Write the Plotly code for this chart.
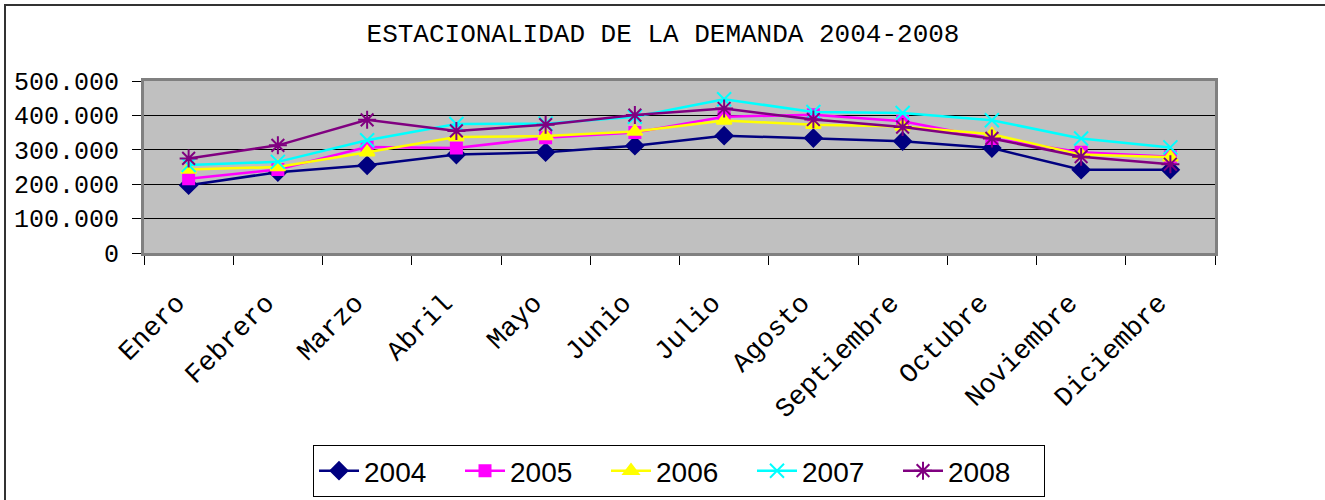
import plotly.graph_objects as go

months = ["Enero", "Febrero", "Marzo", "Abril", "Mayo", "Junio", "Julio",
          "Agosto", "Septiembre", "Octubre", "Noviembre", "Diciembre"]

y2004 = [197000, 235000, 255000, 286000, 293000, 312000, 341000, 334000, 325000, 305000, 242000, 242000]
y2005 = [216000, 243000, 308000, 305000, 335000, 350000, 396000, 402000, 383000, 333000, 293000, 280000]
y2006 = [243000, 250000, 293000, 337000, 340000, 353000, 385000, 373000, 368000, 345000, 286000, 278000]
y2007 = [256000, 265000, 328000, 375000, 376000, 396000, 447000, 410000, 407000, 386000, 333000, 307000]
y2008 = [275000, 313000, 387000, 355000, 373000, 401000, 420000, 388000, 366000, 333000, 280000, 258000]

years = ["2004", "2005", "2006", "2007", "2008"]
series = [y2004, y2005, y2006, y2007, y2008]
colors = ["#000080", "#FF00FF", "#FFFF00", "#00FFFF", "#800080"]
symbols = ["diamond", "square", "triangle-up", "x-thin-open", "asterisk-open"]
sizes = [13, 11, 13, 14, 15]

FONT = "Liberation Mono, Courier New, monospace"
LEGFONT = "Liberation Sans, Arial, sans-serif"

fig = go.Figure()
for name, vals, col, sym, sz in zip(years, series, colors, symbols, sizes):
    fig.add_trace(go.Scatter(
        x=months, y=vals, name=name, mode="lines+markers",
        line=dict(color=col, width=2.5),
        marker=dict(symbol=sym, size=sz, color=col, line=dict(color=col, width=2)),
    ))

L, R, T, B = 144, 1215, 81, 253
W, H = 1325, 500

def px(x):
    return (x - L) / (R - L)

def py(y):
    return (B - y) / (B - T)

fig.update_layout(
    width=W, height=H,
    margin=dict(l=L, r=W - R, t=T, b=H - B, autoexpand=False),
    paper_bgcolor="white",
    plot_bgcolor="#C0C0C0",
    separators=",.",
    font=dict(family=FONT, size=25, color="black"),
    title=dict(text="ESTACIONALIDAD DE LA DEMANDA 2004-2008",
               x=px(663), xref="paper", xanchor="center",
               y=1 - 33 / H, yanchor="middle", yref="container",
               font=dict(family=FONT, size=26, color="black")),
    showlegend=True,
    legend=dict(orientation="h", x=px(313), xanchor="left",
                y=py(445), yanchor="top",
                bgcolor="white", bordercolor="black", borderwidth=1,
                font=dict(family=LEGFONT, size=28, color="black"),
                itemwidth=40, entrywidth=91, entrywidthmode="pixels",
                tracegroupgap=0),
    shapes=[
        dict(type="rect", xref="paper", yref="paper",
             x0=px(5), x1=px(1345), y0=py(520), y1=py(5),
             line=dict(color="#333333", width=2), fillcolor="rgba(0,0,0,0)", layer="below"),
    ],
)

fig.update_xaxes(
    type="category", tickangle=-45, tickson="boundaries",
    ticks="outside", ticklen=9, tickcolor="black", tickwidth=1,
    showgrid=False, showline=True, linecolor="#808080", linewidth=3, mirror=True,
    tickfont=dict(family=FONT, size=27, color="black"),
    ticklabelstandoff=20, ticklabelshift=-12,
    range=[-0.5, 11.5], automargin=False,
)
fig.update_yaxes(
    range=[0, 500000], dtick=100000, tickformat=",d",
    ticks="outside", ticklen=9, tickcolor="black", tickwidth=1,
    showgrid=True, gridcolor="black", gridwidth=1,
    showline=True, linecolor="#808080", linewidth=3, mirror=True,
    zeroline=False, ticklabelstandoff=8, automargin=False,
    tickfont=dict(family=FONT, size=25, color="black"),
)

fig.write_html("out.html", config={"displayModeBar": False},
               post_script="document.body.style.margin='0';")
